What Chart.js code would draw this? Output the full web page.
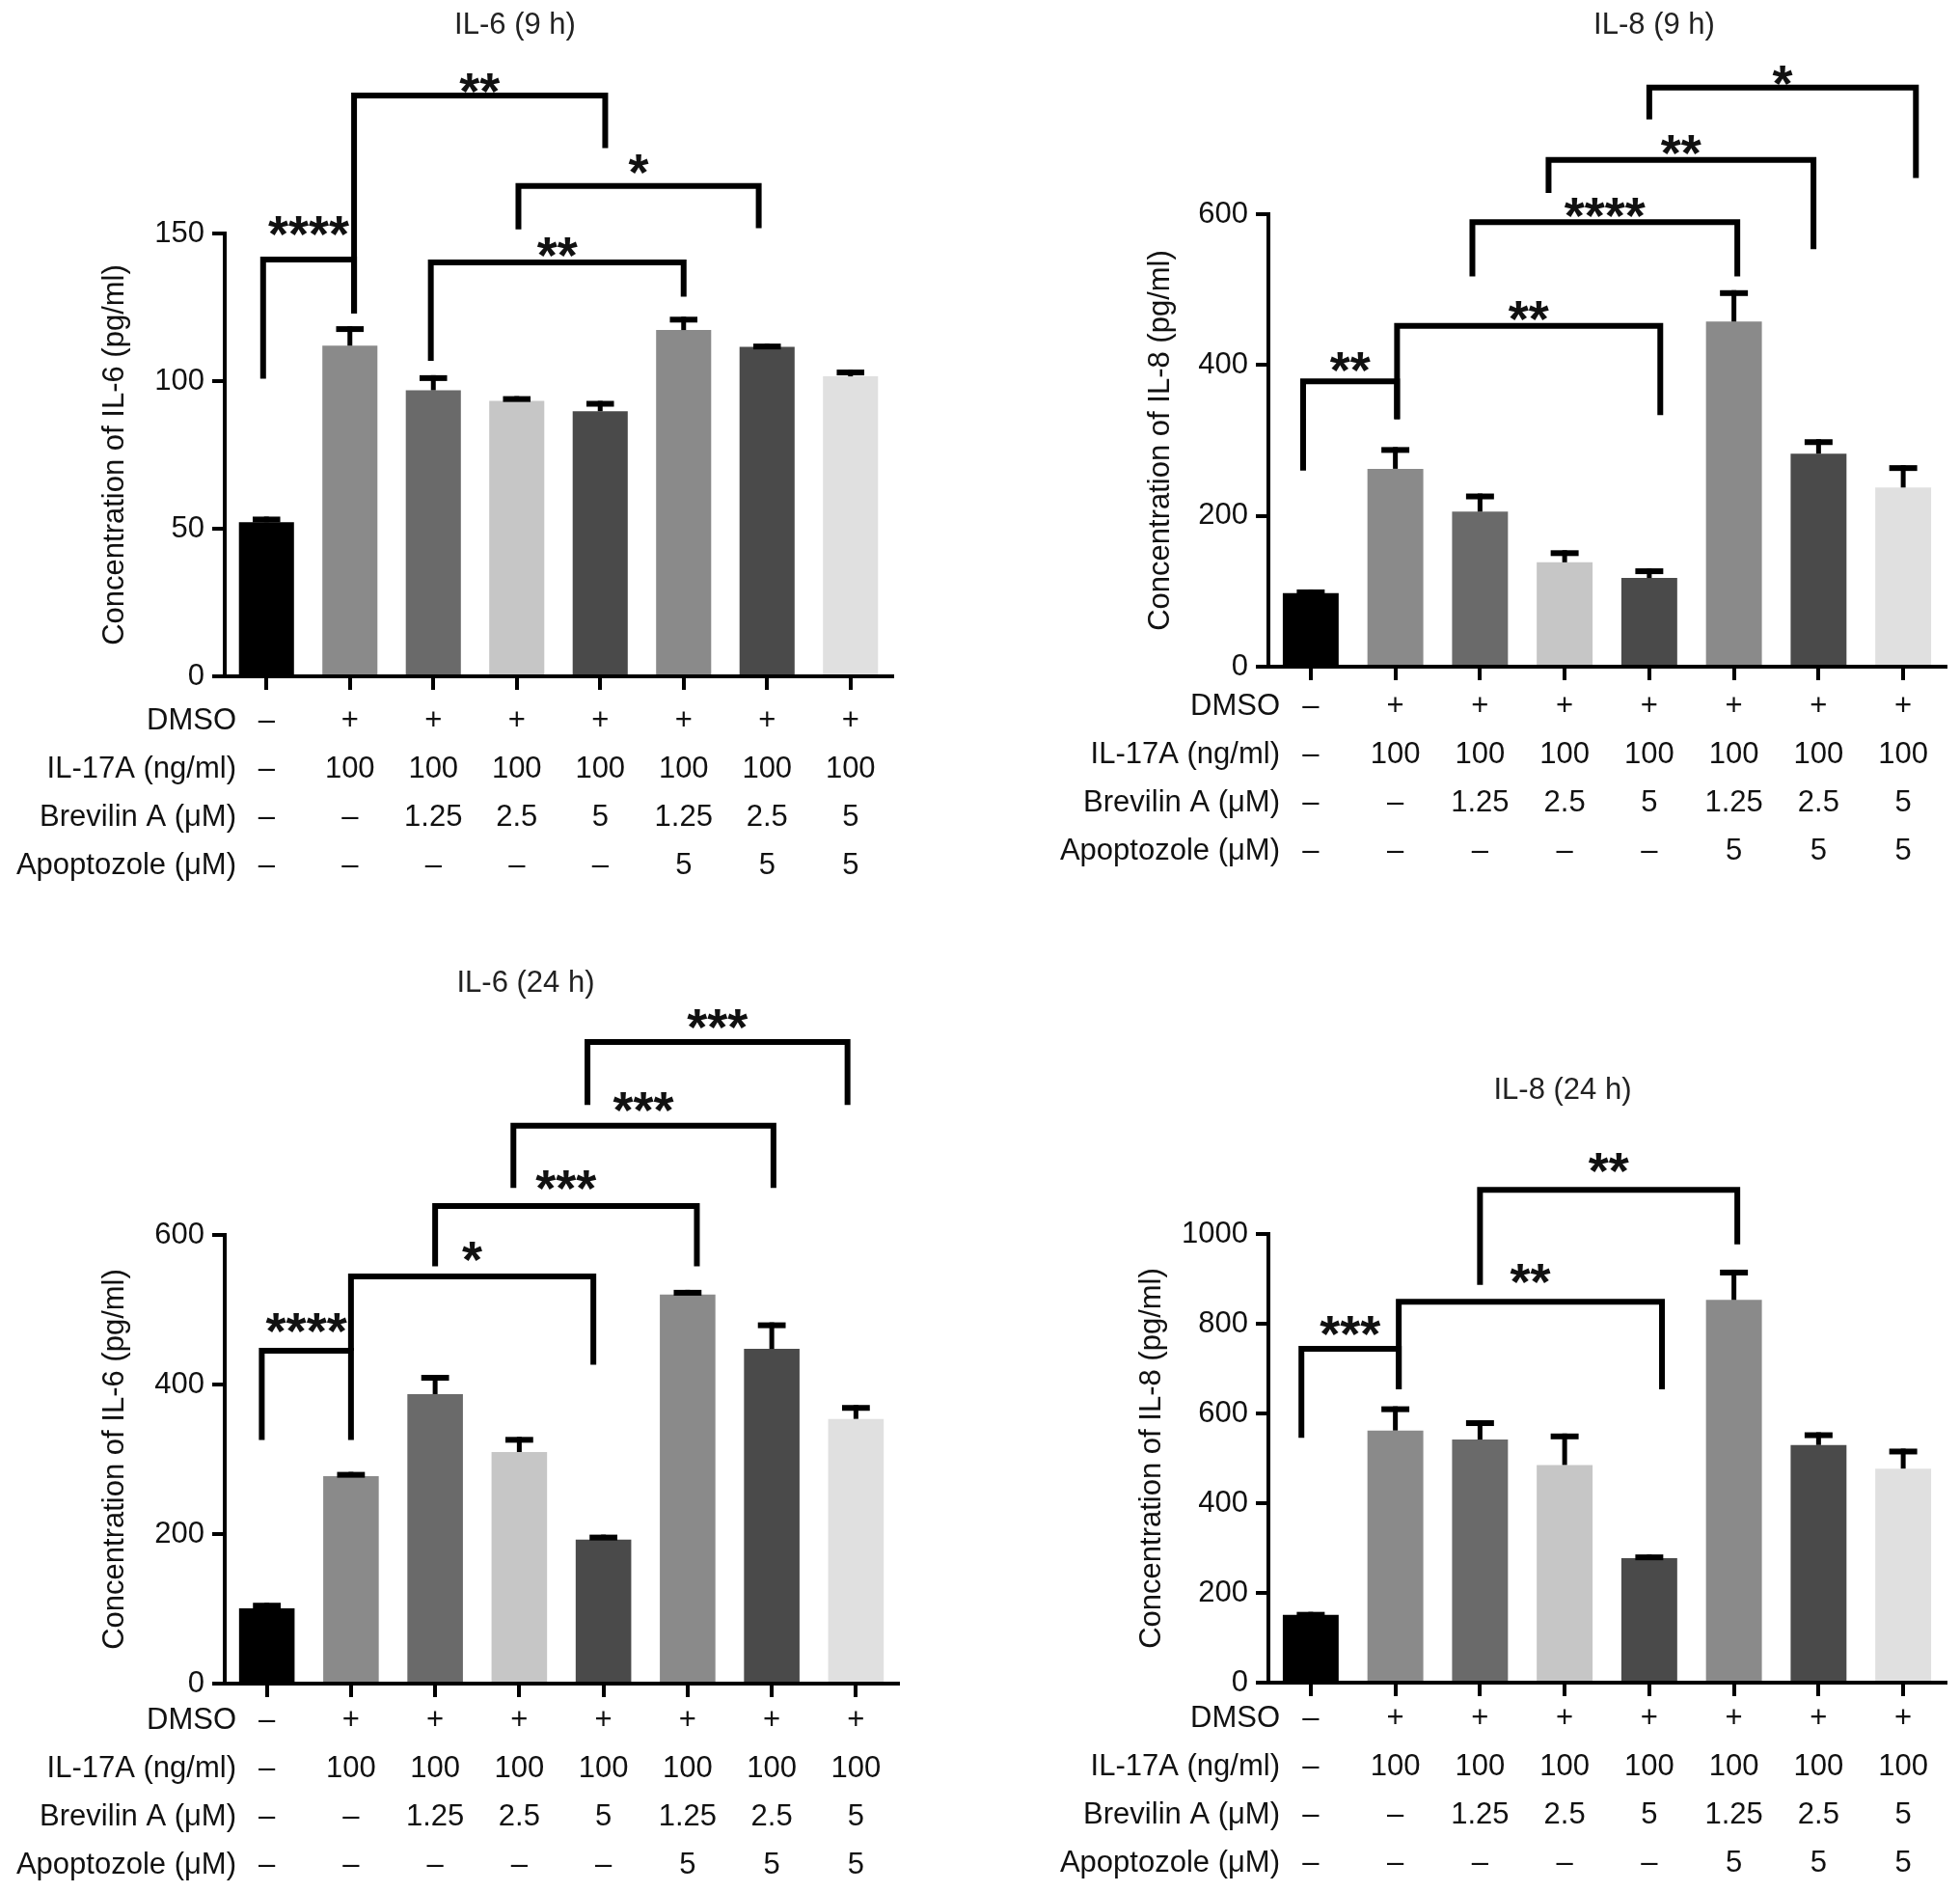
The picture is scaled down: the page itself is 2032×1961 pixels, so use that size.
<!DOCTYPE html>
<html>
<head>
<meta charset="utf-8">
<script src="https://cdn.jsdelivr.net/npm/chart.js@4.4.0/dist/chart.umd.min.js"></script>
<style>
html,body{margin:0;padding:0;background:#fff;}
body{width:2032px;height:1961px;position:relative;overflow:hidden;}
.panel{position:absolute;width:1016px;}
</style>
</head>
<body>
<div class="panel" style="left:0;top:0;height:980px"><canvas id="c1"></canvas></div>
<div class="panel" style="left:1016px;top:0;height:980px"><canvas id="c2"></canvas></div>
<div class="panel" style="left:0;top:980px;height:981px"><canvas id="c3"></canvas></div>
<div class="panel" style="left:1016px;top:980px;height:981px"><canvas id="c4"></canvas></div>
<script>
// ---------- data ----------
const rowLabels = ['DMSO', 'IL-17A (ng/ml)', 'Brevilin A (μM)', 'Apoptozole (μM)'];
const dmsoRow       = ['–', '+', '+', '+', '+', '+', '+', '+'];
const il17aRow      = ['–', '100', '100', '100', '100', '100', '100', '100'];
const brevilinRow   = ['–', '–', '1.25', '2.5', '5', '1.25', '2.5', '5'];
const apoptozoleRow = ['–', '–', '–', '–', '–', '5', '5', '5'];

const il6_9h      = [52.2, 112.0, 96.9, 93.3, 89.8, 117.3, 111.6, 101.6];
const il6_9h_err  = [1.9, 6.6, 5.1, 1.6, 3.5, 4.5, 1.1, 2.3];
const il8_9h      = [97.6, 262.4, 205.6, 138.4, 117.6, 457.6, 282.4, 237.6];
const il8_9h_err  = [4.8, 28.8, 24.0, 16.0, 12.8, 41.6, 19.2, 29.6];
const il6_24h     = [100.8, 277.4, 387.1, 309.7, 192.7, 520.2, 447.6, 354.0];
const il6_24h_err = [7.3, 5.7, 25.8, 20.2, 6.5, 6.4, 35.5, 18.6];
const il8_24h     = [150.9, 562.0, 541.8, 485.2, 277.6, 853.1, 529.6, 477.1];
const il8_24h_err = [6.8, 53.9, 43.1, 70.1, 8.1, 67.4, 28.4, 44.5];

// significance brackets: [fromGroup, toGroup, barLevel, leftLegEnd, rightLegEnd, label, labelLevel]
const il6_9h_sig = [
  [-0.04, 1.05, 141.2, 100.8, 122.9, '****', 152.4],
  [1.05, 4.06, 196.7, 122.9, 178.9, '**', 200.8],
  [3.02, 5.9, 166.1, 151.4, 151.8, '*', 173.5],
  [1.97, 5.0, 140.2, 106.9, 128.6, '**', 145.3]
];
const il8_9h_sig = [
  [-0.09, 1.02, 378.4, 260.0, 328.0, '**', 404],
  [1.02, 4.13, 452.0, 328.0, 333.6, '**', 472],
  [1.91, 5.04, 589.6, 517.6, 517.6, '****', 608],
  [2.81, 5.94, 672.0, 628.0, 553.6, '**', 692],
  [4.0, 7.15, 768.0, 725.6, 648.0, '*', 784]
];
const il6_24h_sig = [
  [-0.06, 1.0, 445.2, 325.8, 325.8, '****', 481.5],
  [1.0, 3.88, 544.4, 445.2, 426.6, '*', 578],
  [2.0, 5.11, 638.7, 558.0, 558.0, '***', 672.6],
  [2.93, 6.02, 746.0, 663.0, 663.0, '***', 777.5],
  [3.81, 6.9, 858.0, 774.0, 774.0, '***', 888.7]
];
const il8_24h_sig = [
  [-0.11, 1.04, 744.0, 545.8, 653.6, '***', 795],
  [1.04, 4.15, 849.0, 653.6, 653.6, '**', 909.7],
  [2.0, 5.04, 1098.4, 886.8, 977.0, '**', 1159]
];

// ---------- styles ----------
const FONT = "'Liberation Sans', Arial, Helvetica, sans-serif";
const barColors = ['#000000', '#8a8a8a', '#6a6a6a', '#c6c6c6', '#4a4a4a', '#8a8a8a', '#4a4a4a', '#e0e0e0'];
Chart.defaults.font.family = FONT;
Chart.defaults.color = '#111';

const categories = dmsoRow.map((_, i) => [dmsoRow[i], il17aRow[i], brevilinRow[i], apoptozoleRow[i]]);

const LH = 50;       // table row pitch
const TICKLEN_X = 14;

function makePanel(id, p) {
  const annot = {
    id: 'annot',
    afterDatasetsDraw(chart) {
      const ctx = chart.ctx, ys = chart.scales.y;
      const meta = chart.getDatasetMeta(0);
      ctx.save();
      ctx.fillStyle = '#000';
      meta.data.forEach((bar, i) => {
        const x = bar.x;
        const yBar = bar.y;
        const yErr = ys.getPixelForValue(p.values[i] + p.errors[i]);
        const w = bar.width * 0.5;
        ctx.fillRect(x - 2.5, yErr, 5, yBar - yErr);
        ctx.fillRect(x - w / 2, yErr, w, 6);
      });
      ctx.restore();
    },
    afterDraw(chart) {
      const ctx = chart.ctx, ys = chart.scales.y, xs = chart.scales.x;
      ctx.save();
      // brackets
      ctx.strokeStyle = '#000';
      ctx.lineWidth = 6;
      ctx.lineJoin = 'miter';
      ctx.lineCap = 'butt';
      ctx.fillStyle = '#111';
      ctx.font = 'bold 54px ' + FONT;
      ctx.textAlign = 'center';
      ctx.textBaseline = 'alphabetic';
      p.sig.forEach(b => {
        const xl = xs.getPixelForValue(b[0]);
        const xr = xs.getPixelForValue(b[1]);
        const yh = ys.getPixelForValue(b[2]);
        const yl = ys.getPixelForValue(b[3]);
        const yr = ys.getPixelForValue(b[4]);
        ctx.beginPath();
        ctx.moveTo(xl, yl);
        ctx.lineTo(xl, yh);
        ctx.lineTo(xr, yh);
        ctx.lineTo(xr, yr);
        ctx.stroke();
        const m = ctx.measureText(b[5]);
        const cy = ys.getPixelForValue(b[6]);
        const base = cy + (m.actualBoundingBoxAscent - m.actualBoundingBoxDescent) / 2;
        ctx.fillText(b[5], (xl + xr) / 2, base);
      });
      // title
      ctx.fillStyle = '#222';
      ctx.font = '31px ' + FONT;
      ctx.textBaseline = 'middle';
      ctx.fillText(p.title, p.titleX, p.titleY);
      // row labels of the table
      ctx.fillStyle = '#111';
      ctx.textAlign = 'right';
      const y0 = xs.top + TICKLEN_X + p.tickPad + LH / 2;
      rowLabels.forEach((t, i) => {
        ctx.fillText(t, chart.chartArea.left + 12, y0 + i * LH);
      });
      ctx.restore();
    }
  };

  return new Chart(document.getElementById(id), {
    type: 'bar',
    data: {
      labels: categories,
      datasets: [{
        data: p.values,
        backgroundColor: barColors,
        borderWidth: 0,
        barPercentage: 0.66,
        categoryPercentage: 1.0
      }]
    },
    options: {
      responsive: true,
      maintainAspectRatio: false,
      animation: false,
      layout: { padding: { left: 0, right: p.rightPad, top: p.top, bottom: 0 } },
      plugins: { legend: { display: false }, title: { display: false }, tooltip: { enabled: false } },
      scales: {
        x: {
          offset: true,
          afterFit(s) { s.height = p.xHeight; },
          grid: { display: true, offset: false, drawOnChartArea: false, drawTicks: true,
                  tickLength: TICKLEN_X, color: '#000', lineWidth: 4 },
          border: { display: true, color: '#000', width: 4 },
          ticks: { autoSkip: false, maxRotation: 0, minRotation: 0, padding: p.tickPad,
                   color: '#111', font: { size: 31, lineHeight: LH / 31 } }
        },
        y: {
          min: 0, max: p.max,
          afterFit(s) { s.width = p.left; },
          grid: { display: true, drawOnChartArea: false, drawTicks: true,
                  tickLength: 13, color: '#000', lineWidth: 4 },
          border: { display: true, color: '#000', width: 4 },
          ticks: { stepSize: p.step, padding: 8, color: '#111', font: { size: 31 },
                   callback: v => String(v) },
          title: { display: true, text: p.yTitle, color: '#111', font: { size: 31 },
                   padding: { top: p.yTitlePad, bottom: 0 } }
        }
      }
    },
    plugins: [annot]
  });
}

makePanel('c1', { values: il6_9h, errors: il6_9h_err, sig: il6_9h_sig, title: 'IL-6 (9 h)',
  titleX: 534, titleY: 26, max: 150, step: 50, yTitle: 'Concentration of IL-6 (pg/ml)',
  yTitlePad: 101, left: 233, rightPad: 91, top: 242, xHeight: 279, tickPad: 7 });
makePanel('c2', { values: il8_9h, errors: il8_9h_err, sig: il8_9h_sig, title: 'IL-8 (9 h)',
  titleX: 699, titleY: 26, max: 600, step: 200, yTitle: 'Concentration of IL-8 (pg/ml)',
  yTitlePad: 169, left: 299, rightPad: 15, top: 222, xHeight: 289, tickPad: 2 });
makePanel('c3', { values: il6_24h, errors: il6_24h_err, sig: il6_24h_sig, title: 'IL-6 (24 h)',
  titleX: 545, titleY: 39, max: 600, step: 200, yTitle: 'Concentration of IL-6 (pg/ml)',
  yTitlePad: 101, left: 233, rightPad: 85, top: 300, xHeight: 216, tickPad: -1 });
makePanel('c4', { values: il8_24h, errors: il8_24h_err, sig: il8_24h_sig, title: 'IL-8 (24 h)',
  titleX: 604, titleY: 150, max: 1000, step: 200, yTitle: 'Concentration of IL-8 (pg/ml)',
  yTitlePad: 160, left: 299, rightPad: 15, top: 299, xHeight: 217, tickPad: -2 });
</script>
</body>
</html>
